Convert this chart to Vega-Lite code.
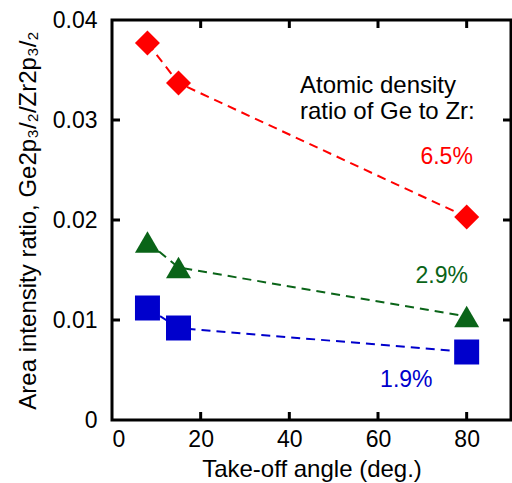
{
  "$schema": "https://vega.github.io/schema/vega-lite/v6.json",
  "width": 399,
  "height": 400,
  "autosize": "none",
  "padding": {"left": 112, "top": 20, "right": 1, "bottom": 63},
  "config": {
    "font": "Liberation Sans",
    "view": {"stroke": "black", "strokeWidth": 3},
    "axis": {
      "labelColor": "black",
      "labelFontSize": 23,
      "titleColor": "black",
      "titleFontSize": 24,
      "titleFontWeight": "normal"
    }
  },
  "datasets": {
    "points": [
      {"angle": 8, "ratio": 0.0377, "series": "6.5%"},
      {"angle": 15, "ratio": 0.0337, "series": "6.5%"},
      {"angle": 80, "ratio": 0.0203, "series": "6.5%"},
      {"angle": 8, "ratio": 0.0178, "series": "2.9%"},
      {"angle": 15, "ratio": 0.01525, "series": "2.9%"},
      {"angle": 80, "ratio": 0.01035, "series": "2.9%"},
      {"angle": 8, "ratio": 0.0112, "series": "1.9%"},
      {"angle": 15, "ratio": 0.0092, "series": "1.9%"},
      {"angle": 80, "ratio": 0.0068, "series": "1.9%"}
    ],
    "heading": [
      {"text": "Atomic density", "angle": 42.4, "ratio": 0.03273},
      {"text": "ratio of Ge to Zr:", "angle": 42.4, "ratio": 0.03007}
    ],
    "pct": [
      {"text": "6.5%", "angle": 81.4, "ratio": 0.0256, "series": "6.5%"},
      {"text": "2.9%", "angle": 80.3, "ratio": 0.0137, "series": "2.9%"},
      {"text": "1.9%", "angle": 72.3, "ratio": 0.00333, "series": "1.9%"}
    ],
    "xticks": [{"angle": 20}, {"angle": 40}, {"angle": 60}, {"angle": 80}],
    "yticks": [{"ratio": 0.01}, {"ratio": 0.02}, {"ratio": 0.03}]
  },
  "layer": [
    {
      "data": {"name": "points"},
      "mark": {"type": "line", "strokeDash": [9, 6], "strokeWidth": 2},
      "encoding": {
        "x": {"field": "angle", "type": "quantitative", "scale": {"domain": [0, 90], "nice": false},
              "axis": {"orient": "bottom", "values": [0, 20, 40, 60, 80], "title": "Take-off angle (deg.)",
                       "domain": false, "ticks": false, "grid": false, "labelPadding": 8, "titlePadding": 6}},
        "y": {"field": "ratio", "type": "quantitative", "scale": {"domain": [0, 0.04], "nice": false},
              "axis": {"orient": "left", "values": [0, 0.01, 0.02, 0.03, 0.04],
                       "labelExpr": "datum.value == 0 ? '0' : format(datum.value, '.2f')",
                       "title": "Area intensity ratio, Ge2p₃/₂/Zr2p₃/₂",
                       "domain": false, "ticks": false, "grid": false, "labelPadding": 15, "titlePadding": 12}},
        "color": {"field": "series", "type": "nominal",
                  "scale": {"domain": ["6.5%", "2.9%", "1.9%"], "range": ["#ff0000", "#0a6418", "#0000cc"]},
                  "legend": null}
      }
    },
    {
      "data": {"name": "xticks"},
      "mark": {"type": "tick", "orient": "vertical", "size": 16, "thickness": 3, "color": "black", "opacity": 1, "clip": true},
      "encoding": {
        "x": {"field": "angle", "type": "quantitative"},
        "y": {"datum": 0, "type": "quantitative"}
      }
    },
    {
      "data": {"name": "xticks"},
      "mark": {"type": "tick", "orient": "vertical", "size": 16, "thickness": 3, "color": "black", "opacity": 1, "clip": true},
      "encoding": {
        "x": {"field": "angle", "type": "quantitative"},
        "y": {"datum": 0.04, "type": "quantitative"}
      }
    },
    {
      "data": {"name": "yticks"},
      "mark": {"type": "tick", "orient": "horizontal", "size": 16, "thickness": 3, "color": "black", "opacity": 1, "clip": true},
      "encoding": {
        "y": {"field": "ratio", "type": "quantitative"},
        "x": {"datum": 0, "type": "quantitative"}
      }
    },
    {
      "data": {"name": "yticks"},
      "mark": {"type": "tick", "orient": "horizontal", "size": 16, "thickness": 3, "color": "black", "opacity": 1, "clip": true},
      "encoding": {
        "y": {"field": "ratio", "type": "quantitative"},
        "x": {"datum": 90, "type": "quantitative"}
      }
    },
    {
      "data": {"name": "points"},
      "mark": {"type": "point", "filled": true, "opacity": 1},
      "encoding": {
        "x": {"field": "angle", "type": "quantitative"},
        "y": {"field": "ratio", "type": "quantitative"},
        "color": {"field": "series", "type": "nominal", "legend": null},
        "shape": {"field": "series", "type": "nominal",
                  "scale": {"domain": ["6.5%", "2.9%", "1.9%"], "range": ["diamond", "triangle-up", "square"]},
                  "legend": null},
        "size": {"field": "series", "type": "ordinal",
                 "scale": {"domain": ["6.5%", "2.9%", "1.9%"], "range": [625, 625, 400]},
                 "legend": null}
      }
    },
    {
      "data": {"name": "heading"},
      "mark": {"type": "text", "align": "left", "baseline": "alphabetic", "fontSize": 24, "color": "black"},
      "encoding": {
        "x": {"field": "angle", "type": "quantitative"},
        "y": {"field": "ratio", "type": "quantitative"},
        "text": {"field": "text"}
      }
    },
    {
      "data": {"name": "pct"},
      "mark": {"type": "text", "align": "right", "baseline": "alphabetic", "fontSize": 23},
      "encoding": {
        "x": {"field": "angle", "type": "quantitative"},
        "y": {"field": "ratio", "type": "quantitative"},
        "text": {"field": "text"},
        "color": {"field": "series", "type": "nominal", "legend": null}
      }
    }
  ]
}
